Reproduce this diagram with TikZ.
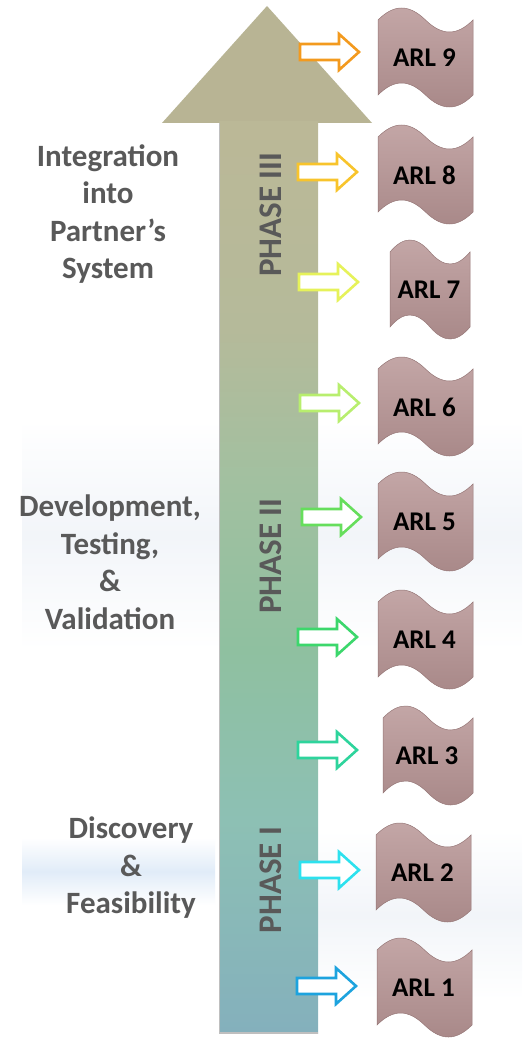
\documentclass[tikz,border=0pt]{standalone}
\usepackage{fontspec}
\setmainfont{Carlito}
\definecolor{txtgray}{HTML}{595959}
\definecolor{headtan}{HTML}{B8B494}
\definecolor{sA}{HTML}{BBB897}
\definecolor{sB}{HTML}{B5BA9A}
\definecolor{sC}{HTML}{A2C0A0}
\definecolor{sD}{HTML}{8FC0A0}
\definecolor{sE}{HTML}{8DC0B4}
\definecolor{sF}{HTML}{84B0BC}
\definecolor{flagtop}{HTML}{C4A7A7}
\definecolor{flagbot}{HTML}{A88888}
\definecolor{flagedge}{HTML}{967777}
\definecolor{cloudA}{HTML}{E1ECF8}
\definecolor{cloudB}{HTML}{F2F5F9}
\definecolor{aNine}{HTML}{F39A1E}
\definecolor{aEight}{HTML}{F8C42C}
\definecolor{aSeven}{HTML}{E6F25A}
\definecolor{aSix}{HTML}{B8EE6E}
\definecolor{aFive}{HTML}{66DE5C}
\definecolor{aFour}{HTML}{3CD76C}
\definecolor{aThree}{HTML}{2ED49C}
\definecolor{aTwo}{HTML}{2DE1EE}
\definecolor{aOne}{HTML}{1DA3DE}
\pgfdeclareverticalshading{shaftshade}{100bp}{color(0bp)=(sF); color(25bp)=(sF); color(36.7bp)=(sE); color(46bp)=(sD); color(55.4bp)=(sC); color(63.6bp)=(sB); color(75bp)=(sA); color(100bp)=(sA)}
\newcommand\arlflag[5]{%
  \begin{scope}[shift={(#2,#3)}, xscale=#4/95]
    \shade[top color=flagtop, bottom color=flagbot, draw=flagedge, line width=0.5pt]
      (0,12) .. controls (16,-4) and (31,-4) .. (47.5,12)
      .. controls (64,28) and (79,28) .. (95,12) -- (95,87)
      .. controls (79,103) and (64,103) .. (47.5,87)
      .. controls (31,71) and (16,71) .. (0,87) -- cycle;
  \end{scope}
  \node[flagtext] (#1) at (#2+#4/2-1, #3+50) {#5};
}
\newcommand\arlarrow[4]{%
  \coordinate (#1) at (#2,#3);
  \draw[blockarrow=#4, shift={(#1)}] (0,-8) -- (39,-8) -- (39,-18) -- (59,0) -- (39,18) -- (39,8) -- (0,8) -- cycle;
}
\begin{document}
\begin{tikzpicture}[x=1pt,y=-1pt,
  flagtext/.style={font=\fontsize{27}{30}\selectfont\bfseries, text=black, inner sep=0pt},
  sidetext/.style={font=\fontsize{31}{37.5}\selectfont\bfseries, text=txtgray, align=center, inner sep=0pt},
  phasetext/.style={font=\fontsize{33}{36}\selectfont\bfseries, text=txtgray, rotate=90, inner sep=0pt},
  blockarrow/.style={draw=#1, fill=white, line width=2.6pt, line join=miter}]
\useasboundingbox (0,0) rectangle (522,1038);
\fill[white] (0,0) rectangle (522,1038);
% faint background clouds
\shade[top color=white, bottom color=white, middle color=cloudB] (22,420) rectangle (522,650);
\shade[top color=white, bottom color=white, middle color=cloudA] (22,838) rectangle (215,905);
\shade[top color=white, bottom color=white, middle color=cloudB] (318,830) rectangle (522,1000);
% main arrow
\fill[headtan] (162,123) -- (267,6) -- (372,123) -- cycle;
\shade[shading=shaftshade] (219,122) rectangle (318,1033);
\draw[black!25, line width=1.5pt] (219.5,123) -- (219.5,1033) -- (318,1033);
\node[phasetext] (p3) at (271,215) {PHASE III};
\node[phasetext] (p2) at (271,556) {PHASE II};
\node[phasetext] (p1) at (271,880) {PHASE I};
% side texts
\node[sidetext] (s3) at (108,214) {Integration\\into\\Partner’s\\System};
\node[sidetext] (s2) at (110,562) {Development,\\Testing,\\\&\\Validation};
\node[sidetext] (s1) at (131,868) {Discovery\\\&\\Feasibility};
% flags
\arlflag{arl9}{378}{8}{95}{ARL 9}
\arlflag{arl8}{378}{125}{95}{ARL 8}
\arlflag{arl7}{390}{240}{80}{ARL 7}
\arlflag{arl6}{378}{357}{95}{ARL 6}
\arlflag{arl5}{378}{472}{95}{ARL 5}
\arlflag{arl4}{378}{590}{95}{ARL 4}
\arlflag{arl3}{383}{706}{90}{ARL 3}
\arlflag{arl2}{376}{823}{95}{ARL 2}
\arlflag{arl1}{377}{938}{95}{ARL 1}
% small arrows
\arlarrow{c9}{300}{52}{aNine}
\arlarrow{c8}{298}{172}{aEight}
\arlarrow{c7}{299}{282}{aSeven}
\arlarrow{c6}{300}{403}{aSix}
\arlarrow{c5}{302}{517}{aFive}
\arlarrow{c4}{298}{637}{aFour}
\arlarrow{c3}{298}{750}{aThree}
\arlarrow{c2}{300}{870}{aTwo}
\arlarrow{c1}{297}{986}{aOne}
\end{tikzpicture}
\end{document}
